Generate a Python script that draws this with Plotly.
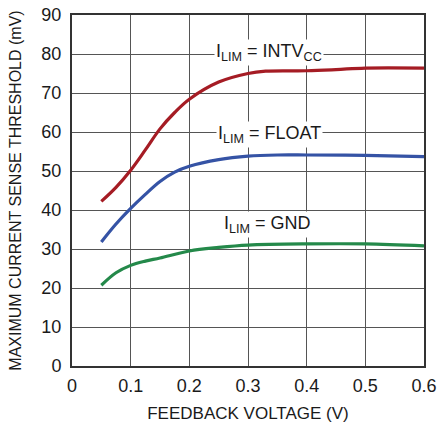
import plotly.graph_objects as go

# Feedback voltage (V) sample points
x_intvcc = [0.05, 0.075, 0.10, 0.125, 0.15, 0.175, 0.20, 0.25, 0.30, 0.33, 0.40, 0.45, 0.50, 0.60]
y_intvcc = [42.2, 45.8, 50.2, 55.4, 60.8, 65.0, 68.4, 72.8, 75.0, 75.6, 75.7, 76.0, 76.4, 76.4]

x_float = [0.05, 0.075, 0.10, 0.125, 0.15, 0.175, 0.20, 0.25, 0.30, 0.35, 0.40, 0.50, 0.60]
y_float = [31.8, 36.4, 40.4, 44.0, 47.3, 49.7, 51.2, 52.9, 53.8, 54.1, 54.1, 54.0, 53.7]

x_gnd = [0.05, 0.075, 0.10, 0.125, 0.15, 0.20, 0.25, 0.30, 0.40, 0.50, 0.60]
y_gnd = [20.7, 23.9, 25.8, 26.9, 27.7, 29.5, 30.4, 31.0, 31.3, 31.3, 30.8]

labels = ["I<sub>LIM</sub> = INTV<sub>CC</sub>", "I<sub>LIM</sub> = FLOAT", "I<sub>LIM</sub> = GND"]
label_x = [0.335, 0.337, 0.334]
label_y = [80.4, 59.3, 36.4]

x_ticks = [0, 0.1, 0.2, 0.3, 0.4, 0.5, 0.6]
x_ticktext = ["0", "0.1", "0.2", "0.3", "0.4", "0.5", "0.6"]
y_ticks = [0, 10, 20, 30, 40, 50, 60, 70, 80, 90]

FONT = "Liberation Sans Narrow, Arial Narrow, Liberation Sans, sans-serif"

fig = go.Figure()
for xs, ys, col in [(x_intvcc, y_intvcc, "#a51c24"),
                    (x_float, y_float, "#3553a5"),
                    (x_gnd, y_gnd, "#24894a")]:
    fig.add_trace(go.Scatter(x=xs, y=ys, mode="lines",
                             line=dict(color=col, width=3.2, shape="spline", smoothing=1.0),
                             showlegend=False, hoverinfo="skip"))

for t, lx, ly in zip(labels, label_x, label_y):
    fig.add_annotation(x=lx, y=ly, text=t, showarrow=False,
                       font=dict(family=FONT, size=18, color="#1a1a1a"),
                       bgcolor="white", borderpad=1, xanchor="center", yanchor="middle")

fig.update_layout(
    width=437, height=423,
    margin=dict(l=72, r=13, t=15, b=57),
    paper_bgcolor="white", plot_bgcolor="white",
    font=dict(family=FONT, size=18, color="#1a1a1a"),
)
fig.update_xaxes(range=[0, 0.6], tickvals=x_ticks, ticktext=x_ticktext,
                 showgrid=True, gridcolor="#555555", gridwidth=1,
                 showline=True, linecolor="#333333", linewidth=2, mirror=True,
                 ticks="outside", ticklen=2, tickcolor="rgba(0,0,0,0)",
                 zeroline=False, automargin=False,
                 title=dict(text="FEEDBACK VOLTAGE (V)", font=dict(family=FONT, size=17), standoff=14))
fig.update_yaxes(range=[0, 90], tickvals=y_ticks,
                 showgrid=True, gridcolor="#555555", gridwidth=1,
                 showline=True, linecolor="#333333", linewidth=2, mirror=True,
                 ticks="outside", ticklen=5, tickcolor="rgba(0,0,0,0)",
                 zeroline=False, automargin=False,
                 title=dict(text="MAXIMUM CURRENT SENSE THRESHOLD (mV)", font=dict(family=FONT, size=16), standoff=16))

fig.write_html("out.html", config={"displayModeBar": False},
               post_script="document.body.style.margin='0';document.body.style.overflow='hidden';")
